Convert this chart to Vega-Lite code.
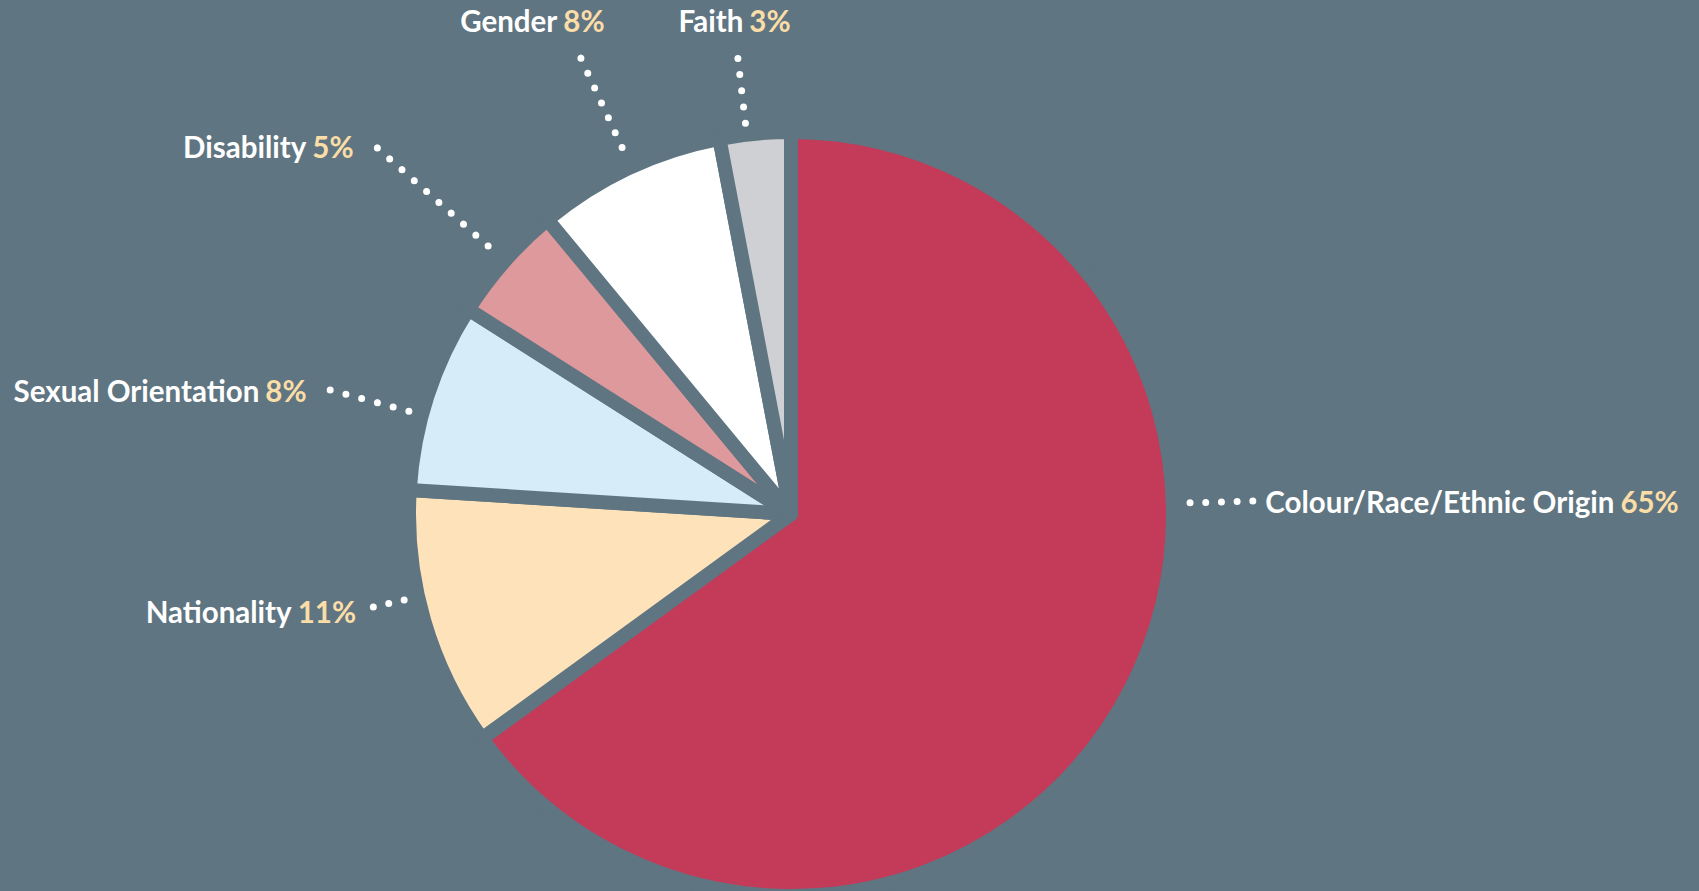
{
  "$schema": "https://vega.github.io/schema/vega-lite/v6.json",
  "width": 1582,
  "height": 1028,
  "autosize": "none",
  "padding": {"left": 0, "top": 0, "right": 117, "bottom": -137},
  "background": "#5F7581",
  "view": {"stroke": null},
  "data": {
    "values": [
      {"category": "Colour/Race/Ethnic Origin", "share": 65, "rank": 1},
      {"category": "Nationality", "share": 11, "rank": 2},
      {"category": "Sexual Orientation", "share": 8, "rank": 3},
      {"category": "Disability", "share": 5, "rank": 4},
      {"category": "Gender", "share": 8, "rank": 5},
      {"category": "Faith", "share": 3, "rank": 6}
    ]
  },
  "transform": [
    {"window": [{"op": "sum", "field": "share", "as": "cum"}], "sort": [{"field": "rank", "order": "ascending"}], "frame": [null, 0]},
    {"calculate": "datum.cum - datum.share", "as": "start"},
    {"calculate": "datum.share + '%'", "as": "pctLabel"}
  ],
  "layer": [
    {
      "mark": {"type": "arc", "innerRadius": 0, "outerRadius": 382, "stroke": "#5F7581", "strokeWidth": 14, "strokeJoin": "round"},
      "encoding": {
        "theta": {"field": "start", "type": "quantitative", "stack": null, "scale": {"domain": [0, 100], "range": [0, 6.283185307]}},
        "theta2": {"field": "cum"},
        "color": {
          "field": "category", "type": "nominal", "legend": null,
          "scale": {
            "domain": ["Colour/Race/Ethnic Origin", "Nationality", "Sexual Orientation", "Disability", "Gender", "Faith"],
            "range": ["#C43B5A", "#FEE3BA", "#D6ECF9", "#DE999D", "#FFFFFF", "#CFD0D3"]
          }
        }
      }
    },
    {
      "transform": [{"filter": "datum.category === 'Faith'"}],
      "mark": {"type": "arc", "innerRadius": 393.4, "outerRadius": 458.7, "filled": false, "stroke": "#FFFFFF", "strokeWidth": 7, "strokeCap": "round", "strokeDash": [0, 16.325]},
      "encoding": {"theta": {"datum": 98.153}, "theta2": {"datum": 98.153}}
    },
    {
      "transform": [{"filter": "datum.category === 'Gender'"}],
      "mark": {"type": "arc", "innerRadius": 403.5, "outerRadius": 501.8, "filled": false, "stroke": "#FFFFFF", "strokeWidth": 7, "strokeCap": "round", "strokeDash": [0, 16.383]},
      "encoding": {"theta": {"datum": 93.125}, "theta2": {"datum": 93.125}}
    },
    {
      "transform": [{"filter": "datum.category === 'Disability'"}],
      "mark": {"type": "arc", "innerRadius": 404.4, "outerRadius": 552.3, "filled": false, "stroke": "#FFFFFF", "strokeWidth": 7, "strokeCap": "round", "strokeDash": [0, 16.433]},
      "encoding": {"theta": {"datum": 86.528}, "theta2": {"datum": 86.528}}
    },
    {
      "transform": [{"filter": "datum.category === 'Sexual Orientation'"}],
      "mark": {"type": "arc", "innerRadius": 395.7, "outerRadius": 477.2, "filled": false, "stroke": "#FFFFFF", "strokeWidth": 7, "strokeCap": "round", "strokeDash": [0, 16.3]},
      "encoding": {"theta": {"datum": 79.181}, "theta2": {"datum": 79.181}}
    },
    {
      "transform": [{"filter": "datum.category === 'Nationality'"}],
      "mark": {"type": "arc", "innerRadius": 396.3, "outerRadius": 427.9, "filled": false, "stroke": "#FFFFFF", "strokeWidth": 7, "strokeCap": "round", "strokeDash": [0, 15.8]},
      "encoding": {"theta": {"datum": 71.514}, "theta2": {"datum": 71.514}}
    },
    {
      "transform": [{"filter": "datum.category === 'Colour/Race/Ethnic Origin'"}],
      "mark": {"type": "arc", "innerRadius": 399.2, "outerRadius": 462, "filled": false, "stroke": "#FFFFFF", "strokeWidth": 7, "strokeCap": "round", "strokeDash": [0, 15.7]},
      "encoding": {"theta": {"datum": 24.556}, "theta2": {"datum": 24.556}}
    },
    {
      "transform": [{"filter": "datum.category === 'Faith'"}],
      "mark": {"type": "text", "radius": 483.5, "dx": -6, "align": "right", "baseline": "alphabetic", "font": "Lato", "fontWeight": "bold", "fontSize": 29.5, "fill": "#FFFFFF"},
      "encoding": {"theta": {"datum": 98.625}, "text": {"field": "category"}}
    },
    {
      "transform": [{"filter": "datum.category === 'Faith'"}],
      "mark": {"type": "text", "radius": 483.5, "align": "left", "baseline": "alphabetic", "font": "Lato", "fontWeight": "bold", "fontSize": 29.5, "fill": "#FBDDA8"},
      "encoding": {"theta": {"datum": 98.625}, "text": {"field": "pctLabel"}}
    },
    {
      "transform": [{"filter": "datum.category === 'Gender'"}],
      "mark": {"type": "text", "radius": 532.8, "dx": -6, "align": "right", "baseline": "alphabetic", "font": "Lato", "fontWeight": "bold", "fontSize": 29.5, "fill": "#FFFFFF"},
      "encoding": {"theta": {"datum": 92.972}, "text": {"field": "category"}}
    },
    {
      "transform": [{"filter": "datum.category === 'Gender'"}],
      "mark": {"type": "text", "radius": 532.8, "align": "left", "baseline": "alphabetic", "font": "Lato", "fontWeight": "bold", "fontSize": 29.5, "fill": "#FBDDA8"},
      "encoding": {"theta": {"datum": 92.972}, "text": {"field": "pctLabel"}}
    },
    {
      "transform": [{"filter": "datum.category === 'Disability'"}],
      "mark": {"type": "text", "radius": 596.7, "dx": -6, "align": "right", "baseline": "alphabetic", "font": "Lato", "fontWeight": "bold", "fontSize": 29.5, "fill": "#FFFFFF"},
      "encoding": {"theta": {"datum": 85.183}, "text": {"field": "category"}}
    },
    {
      "transform": [{"filter": "datum.category === 'Disability'"}],
      "mark": {"type": "text", "radius": 596.7, "align": "left", "baseline": "alphabetic", "font": "Lato", "fontWeight": "bold", "fontSize": 29.5, "fill": "#FBDDA8"},
      "encoding": {"theta": {"datum": 85.183}, "text": {"field": "pctLabel"}}
    },
    {
      "transform": [{"filter": "datum.category === 'Sexual Orientation'"}],
      "mark": {"type": "text", "radius": 537.4, "dx": -6, "align": "right", "baseline": "alphabetic", "font": "Lato", "fontWeight": "bold", "fontSize": 29.5, "fill": "#FFFFFF"},
      "encoding": {"theta": {"datum": 78.333}, "text": {"field": "category"}}
    },
    {
      "transform": [{"filter": "datum.category === 'Sexual Orientation'"}],
      "mark": {"type": "text", "radius": 537.4, "align": "left", "baseline": "alphabetic", "font": "Lato", "fontWeight": "bold", "fontSize": 29.5, "fill": "#FBDDA8"},
      "encoding": {"theta": {"datum": 78.333}, "text": {"field": "pctLabel"}}
    },
    {
      "transform": [{"filter": "datum.category === 'Nationality'"}],
      "mark": {"type": "text", "radius": 505.3, "dx": -6, "align": "right", "baseline": "alphabetic", "font": "Lato", "fontWeight": "bold", "fontSize": 29.5, "fill": "#FFFFFF"},
      "encoding": {"theta": {"datum": 71.531}, "text": {"field": "category"}}
    },
    {
      "transform": [{"filter": "datum.category === 'Nationality'"}],
      "mark": {"type": "text", "radius": 505.3, "align": "left", "baseline": "alphabetic", "font": "Lato", "fontWeight": "bold", "fontSize": 29.5, "fill": "#FBDDA8"},
      "encoding": {"theta": {"datum": 71.531}, "text": {"field": "pctLabel"}}
    },
    {
      "transform": [{"filter": "datum.category === 'Colour/Race/Ethnic Origin'"}],
      "mark": {"type": "text", "radius": 829.4, "dx": -6, "align": "right", "baseline": "alphabetic", "font": "Lato", "fontWeight": "bold", "fontSize": 29.5, "fill": "#FFFFFF"},
      "encoding": {"theta": {"datum": 24.98}, "text": {"field": "category"}}
    },
    {
      "transform": [{"filter": "datum.category === 'Colour/Race/Ethnic Origin'"}],
      "mark": {"type": "text", "radius": 829.4, "align": "left", "baseline": "alphabetic", "font": "Lato", "fontWeight": "bold", "fontSize": 29.5, "fill": "#FBDDA8"},
      "encoding": {"theta": {"datum": 24.98}, "text": {"field": "pctLabel"}}
    }
  ]
}
